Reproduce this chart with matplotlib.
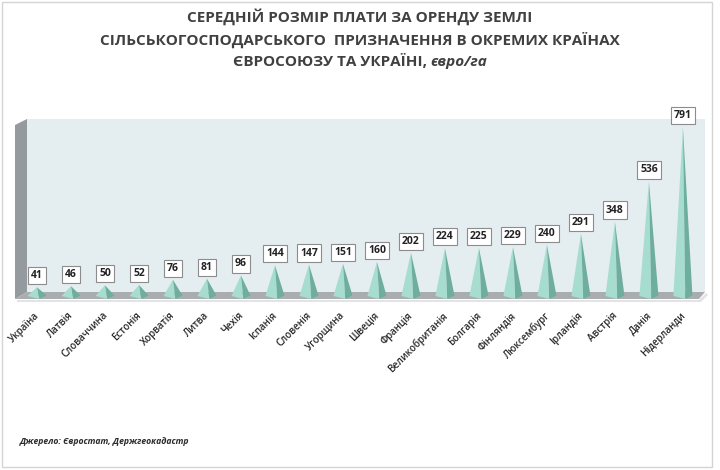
import matplotlib
matplotlib.use('Agg')
import matplotlib.pyplot as plt
from matplotlib.patches import Polygon

countries = ['Україна', 'Латвія', 'Словаччина', 'Естонія', 'Хорватія', 'Литва',
             'Чехія', 'Іспанія', 'Словенія', 'Угорщина', 'Швеція', 'Франція',
             'Великобританія', 'Болгарія', 'Фінляндія', 'Люксембург', 'Ірландія',
             'Австрія', 'Данія', 'Нідерланди']
values = [41, 46, 50, 52, 76, 81, 96, 144, 147, 151, 160, 202, 224, 225, 229,
          240, 291, 348, 536, 791]

title_lines = ['СЕРЕДНІЙ РОЗМІР ПЛАТИ ЗА ОРЕНДУ ЗЕМЛІ',
               'СІЛЬСЬКОГОСПОДАРСЬКОГО  ПРИЗНАЧЕННЯ В ОКРЕМИХ КРАЇНАХ',
               'ЄВРОСОЮЗУ ТА УКРАЇНІ, ']
title_unit = 'євро/га'
source = 'Джерело: Євростат, Держгеокадастр'

FONT = ['Open Sans', 'DejaVu Sans']
plt.rcParams['font.family'] = FONT

W, H = 720, 470
fig = plt.figure(figsize=(W / 100, H / 100), dpi=100)
fig.patch.set_facecolor('white')


def fx(x):
    return x / W


def fy(y):
    return 1 - y / H


def poly(pts, **kw):
    p = Polygon([(fx(a), fy(b)) for a, b in pts], transform=fig.transFigure, **kw)
    fig.patches.append(p)


# outer frame
poly([(2, 2), (712, 2), (712, 467), (2, 467)], closed=True, fill=False,
     edgecolor='#d4d4d4', linewidth=1.0, zorder=-1)
# back wall, side wall, floor (+ soft shadow under the floor)
poly([(27, 119), (705, 119), (705, 292), (27, 292)], facecolor='#e4edf0',
     edgecolor='none', zorder=-1)
poly([(15, 125), (27, 119), (27, 292), (15, 299)], facecolor='#959a9e',
     edgecolor='none', zorder=-1)
poly([(17, 300), (699, 300), (706, 293), (708, 295), (701, 302), (17, 302)],
     facecolor='#e3e3e3', edgecolor='none', zorder=-1)
poly([(15, 299), (27, 292), (705, 292), (699, 299)], facecolor='#a9adb0',
     edgecolor='none', zorder=-1)

ax = fig.add_axes([fx(27), fy(296), (705 - 27) / W, (296 - 119) / H])
ax.set_zorder(2)
ax.axis('off')
ax.set_xlim(-0.294, 19.65)
YMAX = 828
ax.set_ylim(0, YMAX)
upx = YMAX / 177.0  # data units per pixel vertically
w = 0.28

for i, v in enumerate(values):
    left = Polygon([(i - w, 0), (i + 0.25 * w, -3 * upx), (i, v)],
                   facecolor='#a7ddcf', edgecolor='none', clip_on=False, zorder=3)
    right = Polygon([(i + 0.25 * w, -3 * upx), (i + w, 0.5 * upx), (i, v)],
                    facecolor='#6fae9f', edgecolor='none', clip_on=False, zorder=3)
    ax.add_patch(left)
    ax.add_patch(right)
    ax.annotate(str(v), xy=(i, v), xytext=(0, 6), textcoords='offset pixels',
                ha='center', va='bottom', fontsize=7.5, fontweight='bold',
                color='#222222', annotation_clip=False, zorder=5,
                bbox=dict(boxstyle='square,pad=0.3', fc='white', ec='#8c8c8c', lw=0.8))
    ax.annotate(countries[i], xy=(i, 0), xytext=(-3, -14), textcoords='offset pixels',
                ha='right', va='top', rotation=45, rotation_mode='anchor',
                fontsize=7, fontweight='semibold', color='#2b2b2b',
                annotation_clip=False)

# title
fig.canvas.draw()
r = fig.canvas.get_renderer()
tcol = '#404040'
TS = 11
ys = [17, 40, 62]
for k in range(2):
    fig.text(0.5, fy(ys[k]), title_lines[k], ha='center', va='center',
             fontsize=TS, fontweight='bold', color=tcol)
t1 = fig.text(0, fy(ys[2]), title_lines[2], ha='left', va='center',
              fontsize=TS, fontweight='bold', color=tcol)
t2 = fig.text(0, fy(ys[2]), title_unit, ha='left', va='center',
              fontsize=TS, fontweight='bold', style='italic', color=tcol)
w1 = t1.get_window_extent(r).width
w2 = t2.get_window_extent(r).width
x0 = (W - w1 - w2) / 2
t1.set_x(fx(x0))
t2.set_x(fx(x0 + w1))

fig.text(fx(20), fy(442), source, ha='left', va='center', fontsize=6.2,
         style='italic', fontweight='bold', color='#2b2b2b')

fig.savefig('out.png', dpi=100)
